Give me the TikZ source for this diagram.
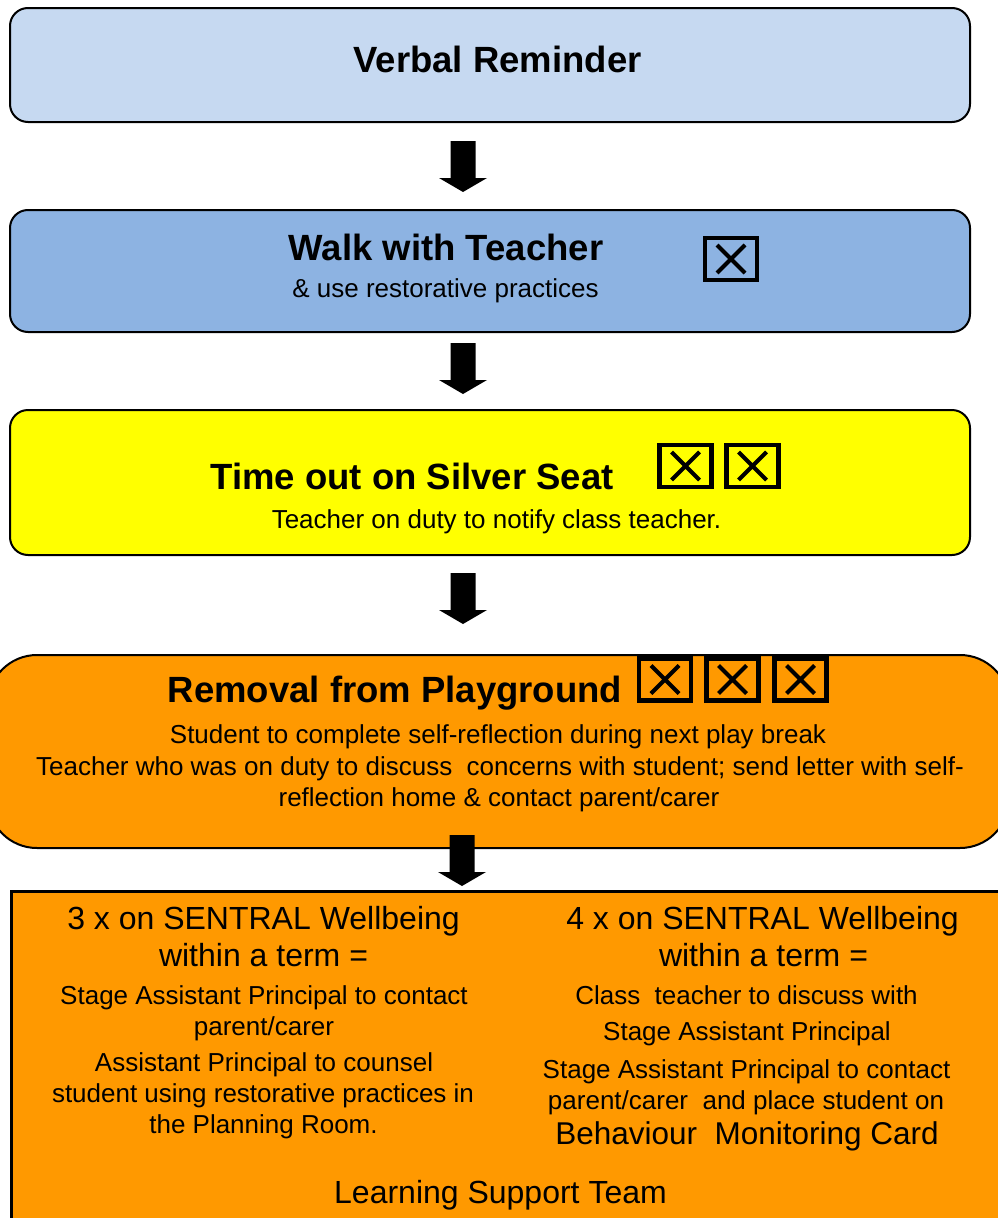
\documentclass[tikz,border=0pt]{standalone}
\usepackage{fontspec}
\setmainfont{Liberation Sans}
\definecolor{cBlueLight}{HTML}{C6D9F1}
\definecolor{cBlue}{HTML}{8DB3E2}
\definecolor{cYellow}{HTML}{FFFF00}
\definecolor{cOrange}{HTML}{FF9900}
\tikzset{
  stagebox/.style={draw=black, line width=2pt, rounded corners=18pt, inner sep=0pt},
  titletxt/.style={anchor=base, inner sep=0pt, font=\fontsize{36.5}{43}\selectfont\bfseries},
  smalltxt/.style={anchor=base, inner sep=0pt, font=\fontsize{26}{31}\selectfont},
  bigtxt/.style={anchor=base, inner sep=0pt, font=\fontsize{32}{38}\selectfont},
  xbox/.pic={
    \draw[line width=4.5pt] (-26,-21) rectangle (26,21);
    \draw[line width=4pt] (-14,-14) -- (14,14) (-14,14) -- (14,-14);
  },
  blockarrow/.pic={
    \fill[black] (-12.5,0) -- (12.5,0) -- (12.5,37) -- (24,37) -- (0,51) -- (-24,37) -- (-12.5,37) -- cycle;
  }
}
\begin{document}
\begin{tikzpicture}[x=1pt, y=-1pt]
\useasboundingbox (0,0) rectangle (998,1218);
\clip (0,0) rectangle (998,1218);

% boxes
\node[stagebox, fill=cBlueLight, minimum width=960pt, minimum height=114pt] (b1) at (490,65) {};
\node[stagebox, fill=cBlue, minimum width=960pt, minimum height=122pt] (b2) at (490,271) {};
\node[stagebox, fill=cYellow, minimum width=960pt, minimum height=145pt] (b3) at (490,482.5) {};
\node[stagebox, fill=cOrange, rounded corners=49pt, minimum width=1021pt, minimum height=193pt] (b4) at (498.5,751.5) {};
\node[draw=black, line width=3pt, fill=cOrange, inner sep=0pt, minimum width=1010pt, minimum height=340pt] (b5) at (516.5,1061.5) {};

% block arrows
\pic at (463,141) {blockarrow};
\pic at (463,343) {blockarrow};
\pic at (463,573) {blockarrow};
\pic at (462,835) {blockarrow};

% box 1
\node[titletxt] (t1) at (497.5,72) {Verbal Reminder};

% box 2
\node[titletxt] (t2) at (446,260) {Walk with Teacher};
\node[smalltxt] (t2a) at (445.5,297) {\& use restorative practices};
\pic at (731,259) {xbox};

% box 3
\node[titletxt] (t3) at (412,489) {Time out on Silver Seat};
\node[smalltxt] (t3a) at (496.5,528) {Teacher on duty to notify class teacher.};
\pic at (685.5,466) {xbox};
\pic at (752.5,466) {xbox};

% box 4
\node[titletxt] (t4) at (395,702) {Removal from Playground};
\pic at (665,679.5) {xbox};
\pic at (732.5,679.5) {xbox};
\pic at (800.5,679.5) {xbox};
\node[smalltxt] (t4a) at (498,743) {Student to complete self-reflection during next play break};
\node[smalltxt] (t4b) at (500,775) {Teacher who was on duty to discuss\ \ concerns with student; send letter with self-};
\node[smalltxt] (t4c) at (499,806) {reflection home \& contact parent/carer};

% box 5 left
\node[bigtxt] (l1) at (263.5,929) {3 x on SENTRAL Wellbeing};
\node[bigtxt] (l2) at (263.5,966) {within a term =};
\node[smalltxt] (l3) at (264,1004) {Stage Assistant Principal to contact};
\node[smalltxt] (l4) at (264,1035) {parent/carer};
\node[smalltxt] (l5) at (264,1071) {Assistant Principal to counsel};
\node[smalltxt] (l6) at (263,1102) {student using restorative practices in};
\node[smalltxt] (l7) at (263.5,1133) {the Planning Room.};

% box 5 right
\node[bigtxt] (r1) at (762.5,929) {4 x on SENTRAL Wellbeing};
\node[bigtxt] (r2) at (763.5,966) {within a term =};
\node[smalltxt] (r3) at (746.5,1004) {Class\ \ teacher to discuss with};
\node[smalltxt] (r4) at (747,1040) {Stage Assistant Principal};
\node[smalltxt] (r5) at (746.5,1078) {Stage Assistant Principal to contact};
\node[smalltxt] (r6) at (746,1109) {parent/carer\ \ and place student on};
\node[bigtxt, font=\fontsize{31.5}{38}\selectfont] (r7) at (747,1144) {Behaviour\ \ Monitoring Card};

\node[bigtxt] (bt) at (500.5,1203) {Learning Support Team};
\end{tikzpicture}
\end{document}
